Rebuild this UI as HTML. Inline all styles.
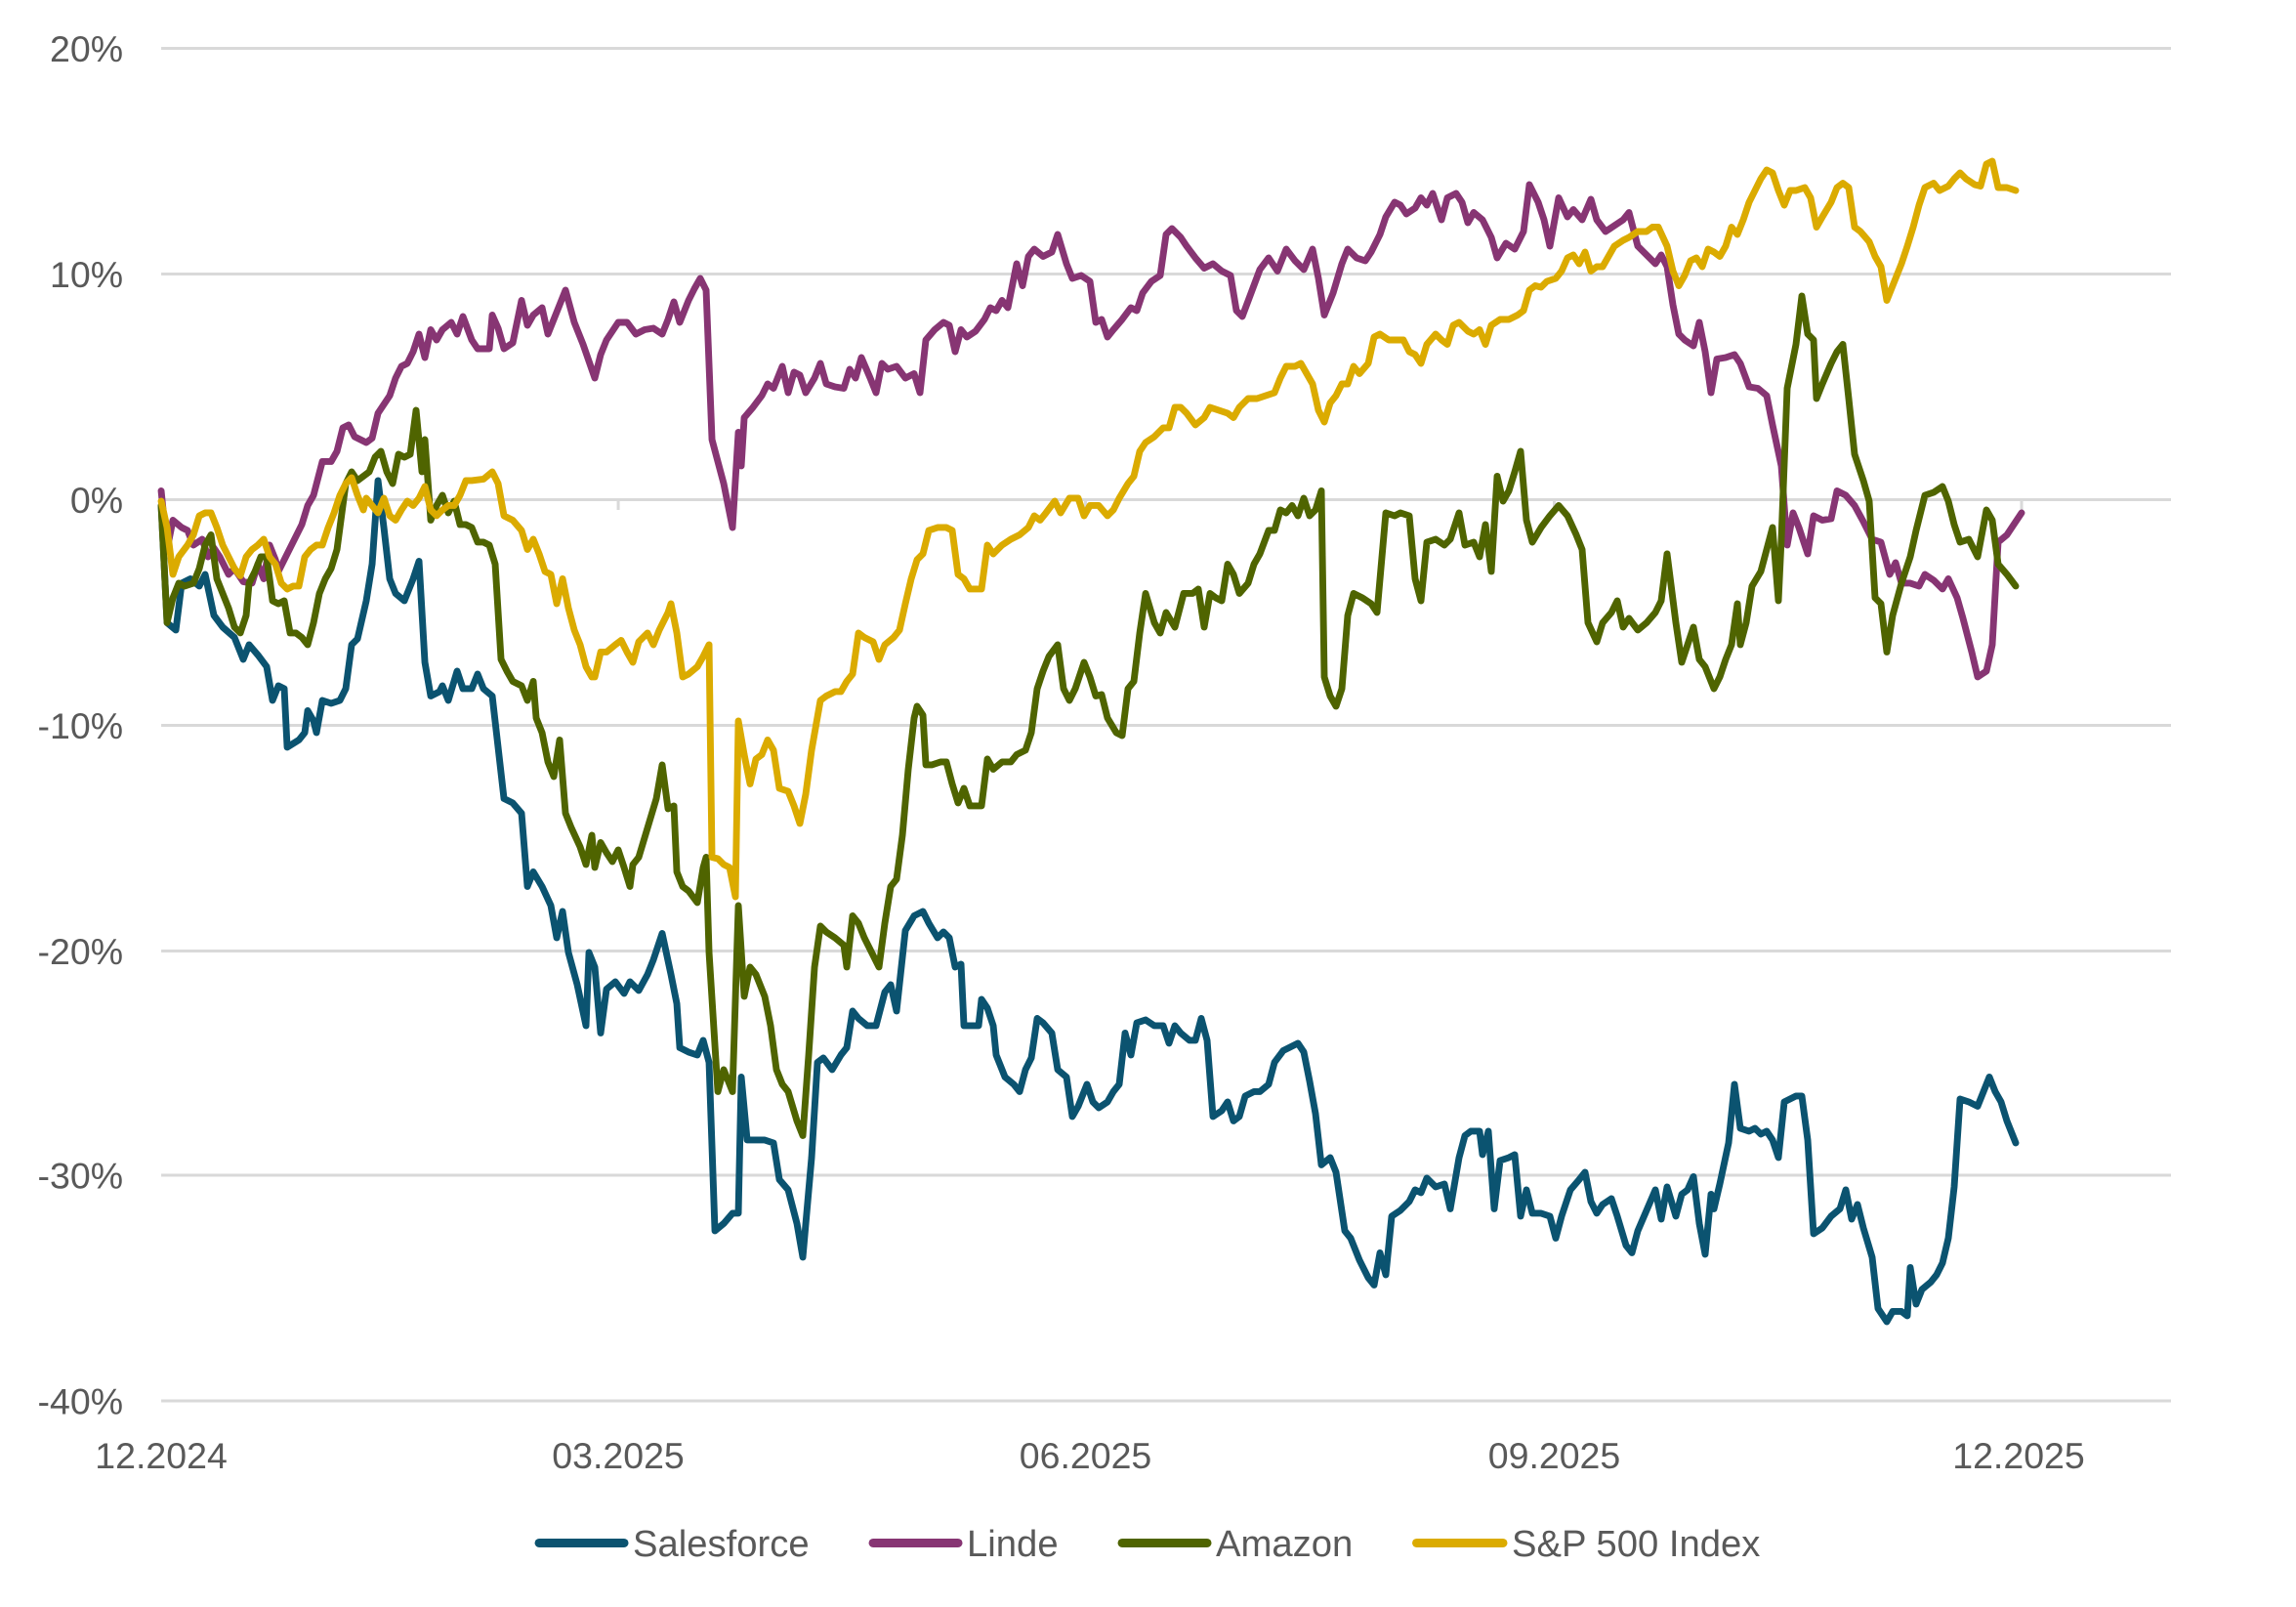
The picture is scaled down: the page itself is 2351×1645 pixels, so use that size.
<!DOCTYPE html>
<html><head><meta charset="utf-8"><style>
html,body{margin:0;padding:0;background:#fff;}
svg{display:block;}
text{font-family:"Liberation Sans",sans-serif;fill:#595959;}
</style></head><body>
<svg width="2351" height="1645" viewBox="0 0 1567.3 1096.7" xmlns="http://www.w3.org/2000/svg">
<g stroke="#d9d9d9" stroke-width="2">
<line x1="110" y1="33" x2="1482" y2="33"/>
<line x1="110" y1="187" x2="1482" y2="187"/>
<line x1="110" y1="341" x2="1482" y2="341"/>
<line x1="110" y1="495" x2="1482" y2="495"/>
<line x1="110" y1="649" x2="1482" y2="649"/>
<line x1="110" y1="802" x2="1482" y2="802"/>
<line x1="110" y1="956" x2="1482" y2="956"/>
<line x1="422" y1="341" x2="422" y2="348"/>
<line x1="741" y1="341" x2="741" y2="348"/>
<line x1="1061" y1="341" x2="1061" y2="348"/>
<line x1="1380" y1="341" x2="1380" y2="348"/>
</g>
<g font-size="25" text-anchor="end">
<text x="84" y="42">20%</text>
<text x="84" y="196">10%</text>
<text x="84" y="350">0%</text>
<text x="84" y="504">-10%</text>
<text x="84" y="658">-20%</text>
<text x="84" y="811">-30%</text>
<text x="84" y="965">-40%</text>
</g>
<g font-size="25" text-anchor="middle">
<text x="110" y="1002">12.2024</text>
<text x="422" y="1002">03.2025</text>
<text x="741" y="1002">06.2025</text>
<text x="1061" y="1002">09.2025</text>
<text x="1378" y="1002">12.2025</text>
</g>
<g fill="none" stroke-width="4.6" stroke-linejoin="round" stroke-linecap="round">
<polyline stroke="#0b5370" points="110,345 114,425 120,430 124,398 130,395 136,400 140,392 146,420 152,428 160,435 166,450 170,440 176,447 182,455 186,478 190,468 194,470 196,510 204,505 208,500 210,485 214,492 216,500 220,478 226,480 232,478 236,470 240,440 244,436 250,410 254,385 258,328 262,360 266,395 270,405 276,410 282,395 286,383 290,452 294,475 300,472 302,468 306,478 312,458 316,470 322,470 326,460 330,470 336,475 340,510 344,545 350,548 356,555 360,605 364,595 370,605 376,618 380,640 384,622 388,650 394,672 400,700 402,650 406,660 410,705 414,675 420,670 426,678 430,670 436,676 442,665 446,655 452,637 458,665 462,685 464,715 470,718 476,720 480,710 484,725 488,840 494,835 500,828 504,828 506,735 510,778 516,778 522,778 528,780 532,805 538,812 544,835 548,858 554,790 558,725 562,722 568,730 574,720 578,715 582,690 586,695 592,700 598,700 604,677 608,672 612,690 618,635 624,625 630,622 634,630 640,640 644,636 648,640 652,660 656,658 658,700 664,700 668,700 670,682 674,688 678,700 680,720 686,735 692,740 696,745 700,730 704,722 708,695 712,698 718,705 722,730 728,735 732,762 736,755 742,740 746,752 750,756 756,752 760,745 764,740 768,705 772,720 776,698 782,696 788,700 794,700 798,712 802,700 806,705 812,710 816,710 820,695 824,710 828,762 834,758 838,752 842,765 846,762 850,748 856,745 860,745 866,740 870,725 876,717 882,714 886,712 890,718 894,738 898,760 902,795 908,790 912,800 918,840 922,845 928,860 934,872 938,877 942,855 946,870 950,830 956,826 962,820 966,812 970,814 974,804 980,810 986,808 990,825 996,790 1000,775 1004,772 1010,772 1012,788 1016,772 1020,825 1024,792 1030,790 1034,788 1038,830 1042,812 1046,828 1052,828 1058,830 1062,845 1066,830 1072,812 1078,805 1082,800 1086,820 1090,828 1094,822 1100,818 1104,830 1110,850 1114,855 1118,840 1124,826 1130,812 1134,832 1138,810 1144,830 1148,815 1152,812 1156,803 1160,835 1164,856 1168,815 1170,825 1174,808 1180,780 1184,740 1188,770 1194,772 1198,770 1202,774 1206,772 1210,778 1214,790 1218,752 1226,748 1230,748 1234,778 1238,842 1244,838 1250,830 1256,825 1260,812 1264,832 1268,822 1272,838 1278,858 1282,893 1288,902 1292,895 1298,895 1302,898 1304,865 1308,890 1312,880 1318,875 1322,870 1326,862 1330,845 1334,810 1338,750 1344,752 1350,755 1354,745 1358,735 1362,745 1366,752 1370,765 1376,780"/>
<polyline stroke="#873573" points="110,335 114,375 118,355 124,360 128,362 132,372 138,368 142,380 146,374 150,380 156,392 160,388 166,397 172,398 176,385 180,395 184,372 188,382 190,390 196,378 200,370 206,358 210,345 214,338 220,315 226,315 230,308 234,292 238,290 242,298 246,300 250,302 254,299 258,282 262,276 266,270 270,258 274,250 278,248 282,240 286,228 290,244 294,225 298,232 302,225 308,220 312,228 316,216 322,232 326,238 330,238 334,238 336,215 340,224 344,238 350,234 356,205 360,222 364,215 370,210 374,228 378,218 386,198 392,220 398,235 406,258 410,242 414,232 422,220 428,220 434,228 440,225 446,224 452,228 456,218 460,206 464,220 470,205 474,197 478,190 482,198 486,300 494,330 500,360 504,295 506,318 508,285 514,278 520,270 524,262 528,265 534,250 538,268 542,254 546,256 550,268 556,258 560,248 564,262 570,264 576,265 580,252 584,258 588,244 594,258 598,268 602,248 606,252 612,250 618,258 624,255 628,268 632,232 638,225 644,220 648,222 652,240 656,225 660,230 666,226 672,218 676,210 680,212 684,205 688,210 694,180 698,195 702,175 706,170 712,175 718,172 722,160 728,180 732,190 738,188 744,192 748,220 752,218 756,230 760,225 766,218 772,210 776,212 780,200 786,192 792,188 796,160 800,156 806,162 810,168 816,176 822,183 828,180 834,185 840,188 844,212 848,216 854,200 860,184 866,176 872,185 878,170 884,178 890,184 896,170 900,190 904,215 910,200 916,180 920,170 926,176 932,178 936,172 942,160 946,148 952,138 956,140 960,146 966,142 970,135 974,140 978,132 984,150 988,135 994,132 998,138 1002,152 1006,145 1012,150 1018,162 1022,176 1028,166 1034,170 1040,158 1044,126 1050,138 1054,150 1058,168 1064,135 1070,148 1074,143 1080,150 1086,136 1090,150 1096,158 1102,154 1108,150 1112,145 1118,168 1126,176 1130,180 1134,174 1138,182 1142,208 1146,228 1150,232 1156,236 1160,220 1164,240 1168,268 1172,245 1178,244 1184,242 1188,248 1194,264 1200,265 1206,270 1210,290 1216,318 1220,372 1224,350 1228,360 1234,378 1238,352 1244,355 1250,354 1254,335 1260,338 1266,345 1272,356 1278,368 1284,370 1290,392 1294,384 1298,398 1304,398 1310,400 1314,392 1320,396 1326,402 1330,395 1336,408 1340,422 1346,445 1350,462 1356,458 1360,440 1364,370 1370,365 1376,356 1380,350"/>
<polyline stroke="#4f6400" points="110,345 114,425 118,408 122,398 126,400 132,398 136,388 140,372 144,365 148,395 152,405 156,415 160,428 164,432 168,420 170,398 174,390 178,380 182,380 186,410 190,412 194,410 198,432 202,432 206,435 210,440 214,425 218,405 222,395 226,388 230,375 236,330 240,322 244,328 248,325 252,322 256,312 260,308 264,322 268,330 272,310 276,312 280,310 284,280 288,322 290,300 294,355 298,345 302,338 306,350 310,342 314,358 318,358 322,360 326,370 330,370 334,372 338,385 342,450 346,458 350,465 356,468 360,478 364,465 366,490 370,500 374,520 378,530 382,505 386,555 390,565 396,578 400,590 404,570 406,592 410,575 414,582 418,588 422,580 426,592 430,605 432,590 436,585 442,565 448,545 452,522 456,552 460,550 462,595 466,605 470,608 476,616 480,592 482,585 484,650 490,745 494,730 500,745 504,618 508,680 512,660 516,665 522,680 526,700 530,730 534,740 538,745 544,765 548,775 552,720 556,660 560,632 564,636 570,640 576,645 578,660 582,625 586,630 590,640 594,648 600,660 604,630 608,605 612,600 616,570 620,525 624,490 626,482 630,488 632,522 636,522 642,520 646,520 650,535 654,548 658,538 662,550 666,550 670,550 674,518 678,525 684,520 690,520 694,515 700,512 704,500 708,470 712,458 716,448 722,440 726,470 730,478 734,470 740,452 744,462 748,475 752,474 756,490 762,500 766,502 770,470 774,465 778,432 782,405 788,425 792,432 796,418 802,428 808,405 814,405 818,402 822,428 826,405 830,408 834,410 838,385 842,392 846,405 852,398 856,385 860,378 866,362 870,362 874,348 878,350 882,345 886,352 890,340 894,352 898,348 902,335 904,462 908,475 912,482 916,470 920,420 924,405 930,408 936,412 940,418 946,350 952,352 956,350 962,352 966,395 970,410 974,370 980,368 986,372 990,368 996,350 1000,372 1006,370 1010,380 1014,358 1018,390 1022,325 1026,342 1030,335 1034,322 1038,308 1042,355 1046,370 1052,360 1058,352 1064,345 1070,352 1076,365 1080,375 1084,425 1090,438 1094,425 1100,418 1104,410 1108,428 1112,422 1118,430 1124,425 1130,418 1134,410 1138,378 1144,425 1148,452 1152,440 1156,428 1160,450 1164,455 1170,470 1174,462 1178,450 1182,440 1186,412 1188,440 1192,425 1196,400 1202,390 1206,375 1210,360 1214,410 1216,368 1220,265 1226,235 1230,202 1234,228 1238,232 1240,272 1244,262 1250,248 1254,240 1258,235 1262,272 1266,310 1272,328 1276,342 1280,408 1284,412 1288,445 1292,420 1298,398 1304,380 1308,362 1314,338 1320,336 1326,332 1330,342 1334,358 1338,370 1344,368 1350,380 1356,348 1360,355 1364,385 1370,392 1376,400"/>
<polyline stroke="#dbab00" points="110,342 114,360 118,392 122,380 128,372 132,365 136,352 140,350 144,350 148,360 152,372 156,380 160,388 164,393 168,380 172,375 176,372 180,368 184,380 188,385 192,398 196,402 200,400 204,400 208,380 212,375 216,372 220,372 224,360 228,350 232,338 236,330 240,326 244,338 248,348 250,340 254,345 258,350 262,340 266,352 270,355 274,348 278,342 282,345 286,340 290,332 294,348 298,352 302,348 306,345 310,345 314,338 318,328 322,328 330,327 336,322 340,330 344,352 350,355 356,362 360,375 364,368 368,378 372,390 376,392 380,412 384,395 388,415 392,430 396,440 400,455 404,462 406,462 410,445 414,445 420,440 424,437 428,445 432,452 436,438 442,432 446,440 450,430 456,418 458,412 462,432 466,462 470,460 476,455 480,448 484,440 486,585 490,586 494,590 498,592 502,612 504,492 508,515 512,535 516,518 520,515 524,505 528,512 532,538 538,540 542,550 546,562 550,542 554,512 560,478 564,475 570,472 574,472 578,465 582,460 586,432 590,435 596,438 600,450 604,440 610,435 614,430 618,412 622,395 626,382 630,378 634,362 640,360 646,360 650,362 654,392 658,395 662,402 666,402 670,402 674,372 678,378 684,372 690,368 696,365 702,360 706,352 710,355 714,350 720,342 724,350 730,340 736,340 740,352 744,345 750,345 756,352 760,348 764,340 770,330 774,325 778,308 782,302 788,298 794,292 798,292 802,278 806,278 810,282 816,290 822,285 826,278 832,280 838,282 842,285 846,278 852,272 858,272 864,270 870,268 874,258 878,250 884,250 888,248 892,255 896,262 900,280 904,288 908,275 912,270 916,262 920,262 924,250 928,255 934,248 938,230 942,228 948,232 954,232 958,232 962,240 966,242 970,248 974,235 980,228 984,232 988,235 992,222 996,220 1002,226 1006,228 1010,225 1014,235 1018,222 1024,218 1030,218 1036,215 1040,212 1044,198 1048,195 1052,196 1056,192 1062,190 1066,185 1070,176 1074,174 1078,180 1082,172 1086,185 1090,182 1094,182 1098,175 1102,168 1108,164 1112,162 1118,158 1124,158 1128,155 1132,155 1138,168 1142,185 1146,195 1150,188 1154,178 1158,176 1162,182 1166,170 1170,172 1174,175 1178,168 1182,155 1186,160 1190,150 1194,138 1198,130 1202,122 1206,116 1210,118 1214,130 1218,140 1222,130 1226,130 1232,128 1236,135 1240,155 1244,148 1250,138 1254,128 1258,125 1262,128 1266,155 1270,158 1276,165 1280,175 1284,182 1288,205 1292,195 1298,180 1302,168 1306,155 1310,140 1314,128 1320,125 1324,130 1330,127 1334,122 1338,118 1342,122 1348,126 1352,127 1356,112 1360,110 1364,128 1370,128 1376,130"/>
</g>
<g stroke-width="6" stroke-linecap="round">
<line x1="368" y1="1053" x2="426" y2="1053" stroke="#0b5370"/>
<line x1="596" y1="1053" x2="654" y2="1053" stroke="#873573"/>
<line x1="766" y1="1053" x2="824" y2="1053" stroke="#4f6400"/>
<line x1="967" y1="1053" x2="1026" y2="1053" stroke="#dbab00"/>
</g>
<g font-size="25.5">
<text x="432" y="1062">Salesforce</text>
<text x="660" y="1062">Linde</text>
<text x="830" y="1062">Amazon</text>
<text x="1032" y="1062">S&amp;P 500 Index</text>
</g>
</svg>
</body></html>
